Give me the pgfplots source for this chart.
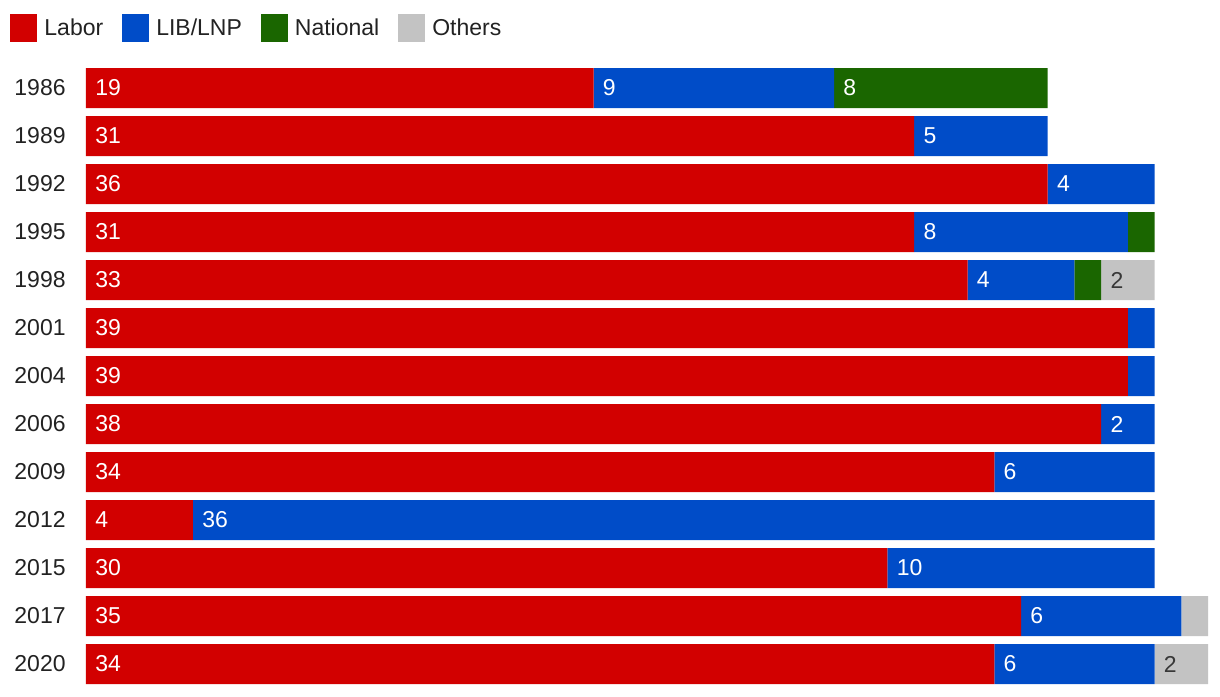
\documentclass[border=0pt]{standalone}
\usepackage{pgfplots}
\pgfplotsset{compat=1.18}
\usepackage{pgfplotstable}
\usepackage{fontspec}
\setmainfont{Liberation Sans}
\definecolor{labor}{RGB}{210,0,0}
\definecolor{lib}{RGB}{0,76,200}
\definecolor{nat}{RGB}{26,102,0}
\definecolor{oth}{RGB}{195,195,195}
\definecolor{txt}{RGB}{34,34,34}
% segment values per election (row y = 0 is 1986)
\pgfplotstableread{
y labor lib nat oth
0 19 9 8 0
1 31 5 0 0
2 36 4 0 0
3 31 8 1 0
4 33 4 1 2
5 39 1 0 0
6 39 1 0 0
7 38 2 0 0
8 34 6 0 0
9 4 36 0 0
10 30 10 0 0
11 35 6 0 1
12 34 6 0 2
}\data
% labels: x = start of the segment, l = text
\pgfplotstableread{
x y l
0 0 19
0 1 31
0 2 36
0 3 31
0 4 33
0 5 39
0 6 39
0 7 38
0 8 34
0 9 4
0 10 30
0 11 35
0 12 34
19 0 9
31 1 5
36 2 4
31 3 8
33 4 4
38 7 2
34 8 6
4 9 36
30 10 10
35 11 6
34 12 6
28 0 8
}\whitelabels
\pgfplotstableread{
x y l
38 4 2
40 12 2
}\greylabels
\pgfplotstableread{
x y l
0 0 1986
0 1 1989
0 2 1992
0 3 1995
0 4 1998
0 5 2001
0 6 2004
0 7 2006
0 8 2009
0 9 2012
0 10 2015
0 11 2017
0 12 2020
}\years
\pgfplotsset{
  common/.style={
    at={(43pt,-344pt)}, anchor=south west,
    scale only axis, width=561pt, height=312pt,
    xmin=0, xmax=42, ymin=-0.5, ymax=12.5, y dir=reverse,
    enlargelimits=false, axis lines=none, clip=false,
  },
}
\begin{document}
\begin{tikzpicture}
\fontsize{11.5}{13.8}\selectfont
\path[use as bounding box] (0,0) rectangle (610pt,-348pt);
\begin{axis}[
  common,
  xbar stacked, bar width=20pt,
  legend columns=-1,
  legend style={draw=none, fill=none, at={(-0.0677,1.08)}, anchor=north west, inner sep=0pt,
    font=\fontsize{11.5}{13.8}\selectfont, text=txt,
    /tikz/every even column/.append style={column sep=9.5pt},
    nodes={inner sep=0pt, anchor=west}},
  legend image code/.code={\fill[#1] (0pt,-7pt) rectangle (13.5pt,7pt);},
  every axis plot/.append style={draw=none},
]
\addplot[fill=labor] table[x=labor,y=y]{\data};
\addplot[fill=lib] table[x=lib,y=y]{\data};
\addplot[fill=nat] table[x=nat,y=y]{\data};
\addplot[fill=oth] table[x=oth,y=y]{\data};
\legend{\hspace{3.5pt}Labor,\hspace{3.5pt}LIB/LNP,\hspace{3.5pt}National,\hspace{3.5pt}Others}
\end{axis}
\begin{axis}[common]
\addplot[draw=none, mark=none, point meta=explicit symbolic, nodes near coords,
  nodes near coords style={anchor=west, inner sep=0pt, xshift=4.5pt, text=white, font=\fontsize{11.5}{13.8}\selectfont}]
  table[x=x,y=y,meta=l]{\whitelabels};
\addplot[draw=none, mark=none, point meta=explicit symbolic, nodes near coords,
  nodes near coords style={anchor=west, inner sep=0pt, xshift=4.5pt, text=txt!90, font=\fontsize{11.5}{13.8}\selectfont}]
  table[x=x,y=y,meta=l]{\greylabels};
\addplot[draw=none, mark=none, point meta=explicit symbolic, nodes near coords,
  nodes near coords style={anchor=east, inner sep=0pt, xshift=-10pt, text=txt, font=\fontsize{11.5}{13.8}\selectfont}]
  table[x=x,y=y,meta=l]{\years};
\end{axis}
\end{tikzpicture}
\end{document}
